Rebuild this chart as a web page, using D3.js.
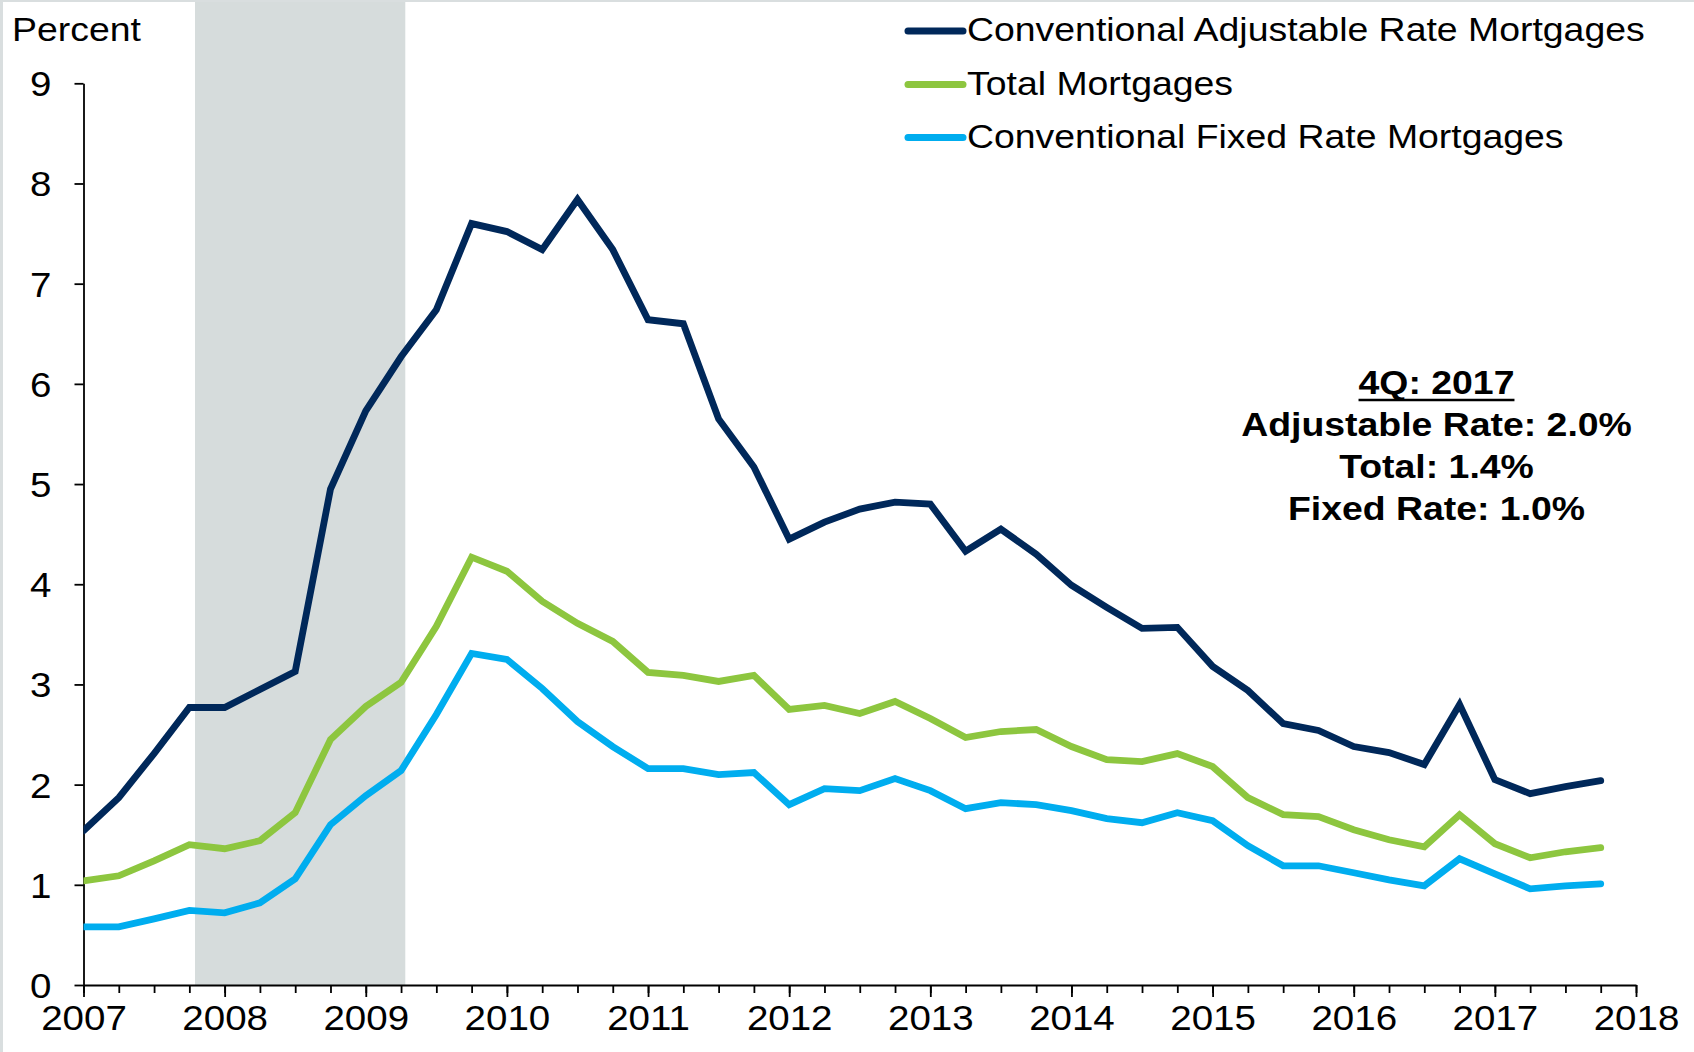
<!DOCTYPE html>
<html>
<head>
<meta charset="utf-8">
<script src="https://cdn.jsdelivr.net/npm/d3@7"></script>
<style>
  html, body { margin: 0; padding: 0; background: #ffffff; }
  svg { display: block; font-family: "Liberation Sans", Arial, sans-serif; }
</style>
</head>
<body>
<svg id="chart" width="1694" height="1052"></svg>
<script>
// Quarterly delinquency rates, percent (1Q 2007 – 4Q 2017)
const quarters = [
  "1Q: 2007","2Q: 2007","3Q: 2007","4Q: 2007",
  "1Q: 2008","2Q: 2008","3Q: 2008","4Q: 2008",
  "1Q: 2009","2Q: 2009","3Q: 2009","4Q: 2009",
  "1Q: 2010","2Q: 2010","3Q: 2010","4Q: 2010",
  "1Q: 2011","2Q: 2011","3Q: 2011","4Q: 2011",
  "1Q: 2012","2Q: 2012","3Q: 2012","4Q: 2012",
  "1Q: 2013","2Q: 2013","3Q: 2013","4Q: 2013",
  "1Q: 2014","2Q: 2014","3Q: 2014","4Q: 2014",
  "1Q: 2015","2Q: 2015","3Q: 2015","4Q: 2015",
  "1Q: 2016","2Q: 2016","3Q: 2016","4Q: 2016",
  "1Q: 2017","2Q: 2017","3Q: 2017","4Q: 2017"
];

const adjustableRate = [
  1.54, 1.87, 2.31, 2.77, 2.77, 2.95, 3.13, 4.95, 5.73, 6.27, 6.74, 7.60,
  7.52, 7.34, 7.84, 7.34, 6.64, 6.60, 5.65, 5.17, 4.45, 4.62, 4.75, 4.82,
  4.80, 4.33, 4.55, 4.30, 3.99, 3.77, 3.56, 3.57, 3.18, 2.94, 2.61, 2.54,
  2.38, 2.32, 2.20, 2.80, 2.05, 1.91, 1.98, 2.04
];

const totalMortgages = [
  1.04, 1.09, 1.24, 1.40, 1.36, 1.44, 1.72, 2.45, 2.78, 3.02, 3.58, 4.27,
  4.13, 3.83, 3.61, 3.43, 3.12, 3.09, 3.03, 3.09, 2.75, 2.79, 2.71, 2.83,
  2.66, 2.47, 2.53, 2.55, 2.38, 2.25, 2.23, 2.31, 2.18, 1.87, 1.70, 1.68,
  1.55, 1.45, 1.38, 1.70, 1.41, 1.27, 1.33, 1.37
];

const fixedRate = [
  0.58, 0.58, 0.66, 0.745, 0.72, 0.82, 1.06, 1.60, 1.89, 2.14, 2.70, 3.31,
  3.25, 2.96, 2.63, 2.38, 2.16, 2.16, 2.10, 2.12, 1.80, 1.96, 1.94, 2.06,
  1.94, 1.76, 1.82, 1.80, 1.74, 1.66, 1.62, 1.72, 1.64, 1.39, 1.19, 1.19,
  1.12, 1.05, 0.99, 1.26, 1.11, 0.96, 0.99, 1.01
];

const seriesNames = [
  "Conventional Adjustable Rate Mortgages",
  "Total Mortgages",
  "Conventional Fixed Rate Mortgages"
];
const seriesShortNames = ["Adjustable Rate", "Total", "Fixed Rate"];
const seriesColors = ["#00285A", "#8DC63F", "#00ADEF"];

const yTicks = [0, 1, 2, 3, 4, 5, 6, 7, 8, 9];
const yearTicks = [2007, 2008, 2009, 2010, 2011, 2012, 2013, 2014, 2015, 2016, 2017, 2018];
const recession = [2007.79, 2009.28];   // shaded recession span, decimal years
const yAxisTitle = "Percent";

// ---------------------------------------------------------------------------
const W = 1694, H = 1052;
const STRETCH = 1.1;   // horizontal glyph stretch used for all text
const svg = d3.select("#chart");

// frame
svg.append("rect").attr("width", W).attr("height", H).attr("fill", "#D9DEDF");
svg.append("rect").attr("x", 3).attr("y", 2).attr("width", W - 3).attr("height", H - 2).attr("fill", "#ffffff");

const x = d3.scaleLinear().domain([2007, 2018]).range([83.5, 1636]);
const y = d3.scaleLinear().domain([0, 9]).range([985, 83.3]);

const qPos = s => +s.slice(4) + (+s[0] - 1) / 4;
const xs = quarters.map(qPos);

// recession band
svg.append("rect")
  .attr("x", x(recession[0]))
  .attr("y", 2)
  .attr("width", x(recession[1]) - x(recession[0]))
  .attr("height", y(0) - 2)
  .attr("fill", "#D6DCDC");

function stretchText(sel) {
  sel.each(function () {
    const t = d3.select(this);
    const tx = +t.attr("x") || 0, ty = +t.attr("y") || 0;
    t.attr("x", null).attr("y", null)
     .attr("transform", `translate(${tx},${ty}) scale(${STRETCH},1)`);
  });
}

// y axis
const yAxis = svg.append("g")
  .attr("transform", `translate(${x(2007)},0)`)
  .call(d3.axisLeft(y).tickValues(yTicks).tickSize(9).tickSizeOuter(0).tickFormat(d3.format("d")));
yAxis.select(".domain").attr("stroke", "#000").attr("stroke-width", 1.8);
yAxis.selectAll(".tick line").attr("stroke", "#000").attr("stroke-width", 1.8);
yAxis.selectAll(".tick text")
  .attr("x", -32).attr("y", 12.5).attr("dy", null)
  .attr("fill", "#000").attr("font-size", 35)
  .attr("font-family", "Liberation Sans, Arial, sans-serif")
  .attr("text-anchor", "end")
  .call(stretchText);

// x axis: quarter ticks and year ticks
const minorTicks = xs.concat([2018]);
const xMinor = svg.append("g")
  .attr("transform", `translate(0,${y(0)})`)
  .call(d3.axisBottom(x).tickValues(minorTicks).tickSize(8).tickSizeOuter(0).tickFormat(""));
xMinor.select(".domain").attr("stroke", "#000").attr("stroke-width", 1.8);
xMinor.selectAll(".tick line").attr("stroke", "#000").attr("stroke-width", 1.8);

const xMajor = svg.append("g")
  .attr("transform", `translate(0,${y(0)})`)
  .call(d3.axisBottom(x).tickValues(yearTicks).tickSize(12).tickSizeOuter(0).tickFormat(d3.format("d")));
xMajor.select(".domain").remove();
xMajor.selectAll(".tick line").attr("stroke", "#000").attr("stroke-width", 1.8);
xMajor.selectAll(".tick text")
  .attr("y", 45).attr("dy", null)
  .attr("fill", "#000").attr("font-size", 35)
  .attr("font-family", "Liberation Sans, Arial, sans-serif")
  .call(stretchText);

// y axis title
svg.append("text")
  .attr("x", 12).attr("y", 40.5)
  .attr("font-size", 34).attr("fill", "#000")
  .text(yAxisTitle)
  .call(stretchText);

// series lines
const series = [adjustableRate, totalMortgages, fixedRate];
svg.append("clipPath").attr("id", "plotClip")
  .append("rect").attr("x", x(2007)).attr("y", 0).attr("width", W).attr("height", H);

const line = d3.line().x((d, i) => x(xs[i])).y(d => y(d));
const lines = svg.append("g").attr("clip-path", "url(#plotClip)");
series.forEach((vals, k) => {
  lines.append("path")
    .datum(vals)
    .attr("d", line)
    .attr("fill", "none")
    .attr("stroke", seriesColors[k])
    .attr("stroke-width", 6.8)
    .attr("stroke-linejoin", "miter")
    .attr("stroke-miterlimit", 4)
    .attr("stroke-linecap", "round");
});

// legend
const legendY = [31, 84.5, 137.5];
const legend = svg.append("g");
seriesNames.forEach((name, k) => {
  legend.append("line")
    .attr("x1", 908).attr("x2", 963)
    .attr("y1", legendY[k]).attr("y2", legendY[k])
    .attr("stroke", seriesColors[k]).attr("stroke-width", 7)
    .attr("stroke-linecap", "round");
  legend.append("text")
    .attr("x", 967).attr("y", legendY[k] + 10)
    .attr("font-size", 34).attr("fill", "#000")
    .text(name)
    .call(stretchText);
});

// latest-quarter annotation, built from the last data point of each series
const last = quarters.length - 1;
const fmt = d3.format(".1f");
const noteX = 1436.5;
const noteLines = [
  quarters[last],
  `${seriesShortNames[0]}: ${fmt(adjustableRate[last])}%`,
  `${seriesShortNames[1]}: ${fmt(totalMortgages[last])}%`,
  `${seriesShortNames[2]}: ${fmt(fixedRate[last])}%`
];
const noteBase = [394, 436, 478, 520];
const note = svg.append("g");
noteLines.forEach((txt, i) => {
  const t = note.append("text")
    .attr("x", noteX).attr("y", noteBase[i])
    .attr("text-anchor", "middle")
    .attr("font-size", 34).attr("font-weight", "bold").attr("fill", "#000")
    .text(txt);
  if (i === 0) {
    const w = t.node().getComputedTextLength() * STRETCH;
    note.append("line")
      .attr("x1", noteX - w / 2).attr("x2", noteX + w / 2)
      .attr("y1", noteBase[i] + 6).attr("y2", noteBase[i] + 6)
      .attr("stroke", "#000").attr("stroke-width", 2.5);
  }
  t.call(stretchText);
});
</script>
</body>
</html>
